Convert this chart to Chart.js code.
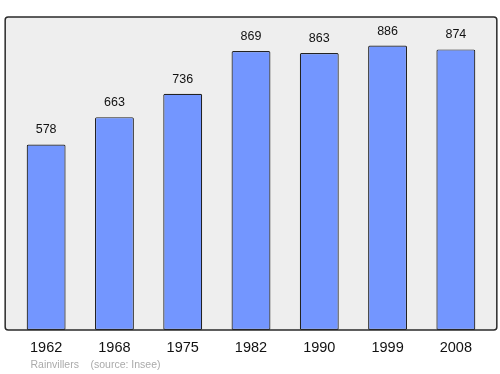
<!DOCTYPE html>
<html>
<head>
<meta charset="utf-8">
<script src="https://cdn.jsdelivr.net/npm/chart.js@4"></script>
<style>
html,body{margin:0;padding:0;background:#fff;}
#wrap{width:500px;height:374px;position:relative;}
</style>
</head>
<body>
<div id="wrap"><canvas id="c" width="500" height="374"></canvas></div>
<script>
const years = ["1962","1968","1975","1982","1990","1999","2008"];
const population = [578, 663, 736, 869, 863, 886, 874];
const footerPlace = "Rainvillers";
const footerSource = "(source: Insee)";
const yMax = 975;

const FONT = "'Liberation Sans', Arial, sans-serif";

const frame = {
  id: 'frame',
  beforeDatasetsDraw(chart) {
    const {ctx, chartArea:a, scales:{x}} = chart;
    const cw = (x.getPixelForValue(1) - x.getPixelForValue(0));
    const l = a.left - 0.1*cw, r = a.right + 0.1*cw;
    ctx.save();
    ctx.beginPath();
    ctx.roundRect(l, a.top, r - l, a.bottom - a.top, 3);
    ctx.fillStyle = '#eeeeee';
    ctx.fill();
    ctx.restore();
  },
  afterDatasetsDraw(chart) {
    const {ctx, chartArea:a, scales:{x}} = chart;
    const cw = (x.getPixelForValue(1) - x.getPixelForValue(0));
    const l = a.left - 0.1*cw, r = a.right + 0.1*cw;
    ctx.save();
    ctx.beginPath();
    ctx.roundRect(l, a.top, r - l, a.bottom - a.top, 3);
    ctx.strokeStyle = '#2a2a2a';
    ctx.lineWidth = 1.5;
    ctx.stroke();
    // value labels
    const meta = chart.getDatasetMeta(0);
    ctx.fillStyle = '#111';
    ctx.font = '12.5px ' + FONT;
    ctx.textAlign = 'center';
    ctx.textBaseline = 'middle';
    meta.data.forEach((bar, i) => {
      ctx.fillText(String(population[i]), bar.x, bar.y - 14.5);
    });
    // footer
    ctx.fillStyle = '#aaaaaa';
    ctx.font = '10.5px ' + FONT;
    ctx.textAlign = 'left';
    ctx.fillText(footerPlace, 30.5, 365);
    ctx.fillText(footerSource, 90.5, 365);
    ctx.restore();
  }
};

new Chart(document.getElementById('c'), {
  type: 'bar',
  data: {
    labels: years,
    datasets: [{
      data: population,
      backgroundColor: '#7396ff',
      borderColor: '#222',
      borderWidth: 1.2,
      borderRadius: 1.5,
      borderSkipped: false,
      barPercentage: 0.57,
      categoryPercentage: 1
    }]
  },
  options: {
    responsive: false,
    animation: false,
    devicePixelRatio: 1,
    layout: { padding: { left: 12, right: 10, top: 17, bottom: 0 } },
    plugins: { legend: { display: false }, tooltip: { enabled: false }, title: { display: false } },
    scales: {
      x: {
        grid: { display: false, drawTicks: false },
        border: { display: false },
        ticks: { color: '#111', font: { size: 14.5, family: FONT }, padding: 9, maxRotation: 0 },
        afterFit(s) { s.height = 44; }
      },
      y: {
        display: false,
        min: 0,
        max: yMax
      }
    }
  },
  plugins: [frame]
});
</script>
</body>
</html>
